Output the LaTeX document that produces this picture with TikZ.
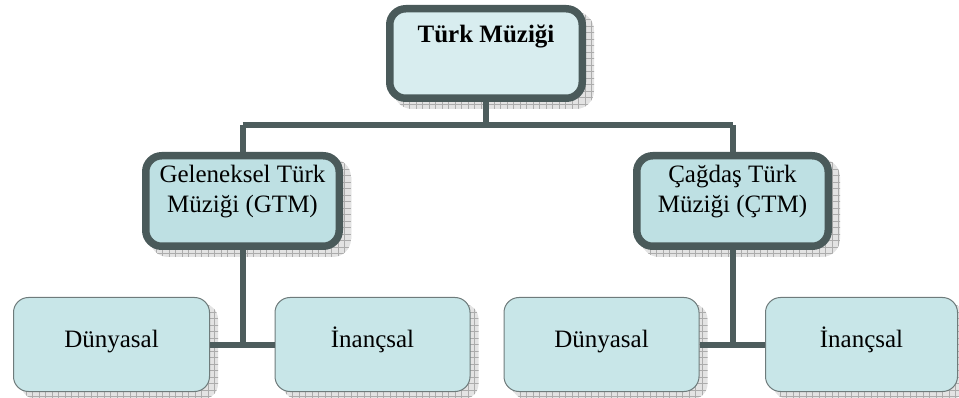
\documentclass[tikz,border=0pt]{standalone}
\usepackage{fontspec}
\setmainfont{Liberation Serif}
\usetikzlibrary{calc}
\pgfdeclarelayer{background}
\pgfsetlayers{background,main}
\definecolor{bordc}{HTML}{4A5A5A}
\definecolor{linec}{HTML}{4D5D5D}
\definecolor{topfill}{HTML}{D8EDEF}
\definecolor{midfill}{HTML}{BEE0E3}
\definecolor{lowfill}{HTML}{C8E6E8}
\tikzset{
  bigbox/.style={draw=bordc, line width=7.5pt, rounded corners=16pt, inner sep=0pt},
  smallbox/.style={draw=bordc!80, line width=1pt, fill=lowfill, rounded corners=15pt,
     minimum width=195pt, minimum height=94pt, inner sep=0pt,
     text height=12pt, text depth=7pt,
     font=\fontsize{25}{30}\selectfont},
  conn/.style={draw=linec, line width=6pt},
  txt/.style={font=\fontsize{25}{30}\selectfont, align=center, inner sep=0pt}
}
\begin{document}
\begin{tikzpicture}[x=1pt,y=-1pt]
\useasboundingbox (0,0) rectangle (959,398);
% boxes
\node[bigbox, fill=topfill, minimum width=192.5pt, minimum height=89.5pt] (top) at (486,53.5) {};
\node[txt, font=\fontsize{25}{30}\selectfont\bfseries, anchor=north] (toptxt) at (486,25) {Türk Müziği};
\node[bigbox, fill=midfill, minimum width=193.5pt, minimum height=90.5pt] (gtm) at (242.5,201) {};
\node[txt, anchor=north] (gtmtxt) at (242.5,165) {Geleneksel Türk\\Müziği (GTM)};
\node[bigbox, fill=midfill, minimum width=191.5pt, minimum height=90.5pt] (ctm) at (732.5,201) {};
\node[txt, anchor=north] (ctmtxt) at (732.5,165) {Çağdaş Türk\\Müziği (ÇTM)};
\node[smallbox, minimum width=196pt] (d1) at (111.5,344.5) {Dünyasal};
\node[smallbox] (i1) at (372.5,344.5) {İnançsal};
\node[smallbox] (d2) at (601.5,344.5) {Dünyasal};
\node[smallbox, minimum width=192pt] (i2) at (861.5,344.5) {İnançsal};
% shadows
\begin{pgfonlayer}{background}
\foreach \n/\r in {top/18,gtm/18,ctm/18,d1/15,i1/15,d2/15,i2/15}{
  \begin{scope}
    \clip[rounded corners=\r pt] ($(\n.north west)+(8,7)$) rectangle ($(\n.south east)+(8,7)$);
    \fill[gray!22] ($(\n.north west)+(-5,-5)$) rectangle ($(\n.south east)+(20,20)$);
    \draw[gray!65, line width=0.5pt, step=6.5pt] ($(\n.north west)+(-5,-5)$) grid ($(\n.south east)+(20,20)$);
  \end{scope}
}
\end{pgfonlayer}
% connectors
\coordinate (hub) at (487,125);
\draw[conn] (top.south) -- (top.south |- hub);
\draw[conn] (gtm.north |- hub) -- (ctm.north |- hub);
\draw[conn] (gtm.north |- hub) -- (gtm.north);
\draw[conn] (ctm.north |- hub) -- (ctm.north);
\draw[conn] (gtm.south) -- (gtm.south |- d1.east);
\draw[conn] (d1.east) -- (i1.west);
\draw[conn] (ctm.south) -- (ctm.south |- d2.east);
\draw[conn] (d2.east) -- (i2.west);
\end{tikzpicture}
\end{document}
